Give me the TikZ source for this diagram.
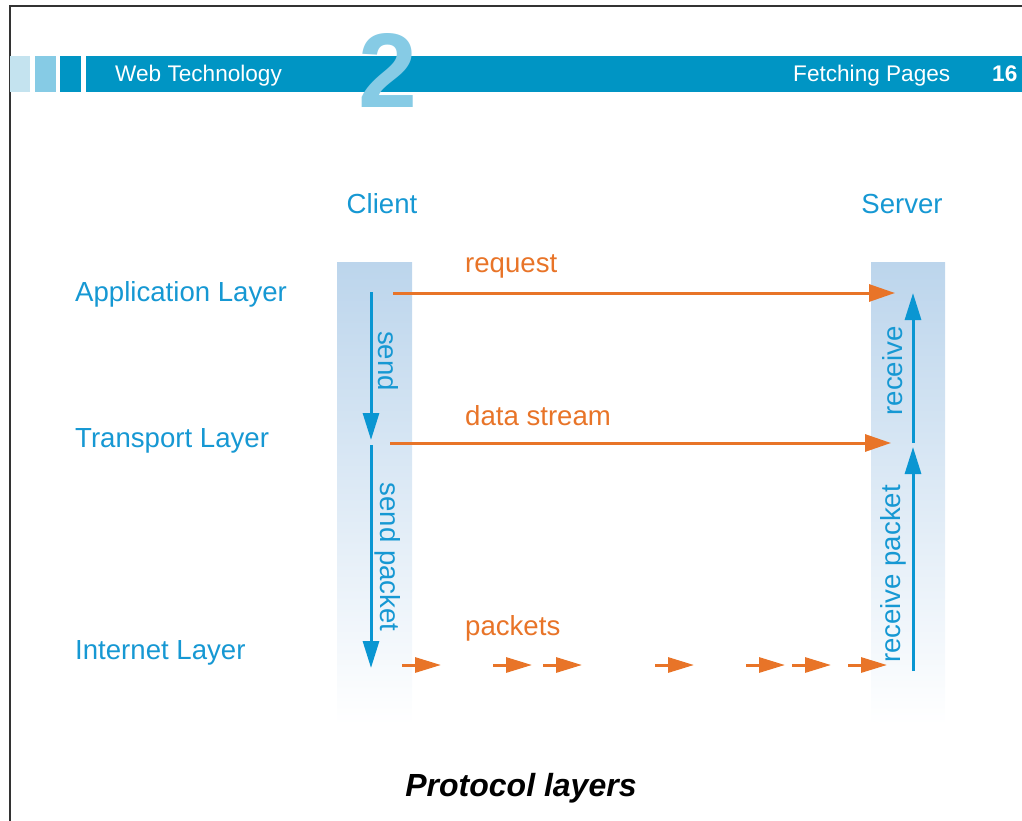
\documentclass[tikz,border=0pt]{standalone}
\usepackage{fontspec}
\setmainfont{Liberation Sans}
\usetikzlibrary{arrows.meta}
\definecolor{barblue}{RGB}{0,149,196}
\definecolor{midblue}{RGB}{134,203,229}
\definecolor{paleblue}{RGB}{196,227,239}
\definecolor{txtblue}{RGB}{22,152,211}
\definecolor{arrblue}{RGB}{10,150,210}
\definecolor{arrorange}{RGB}{232,116,40}
\definecolor{coltop}{RGB}{188,213,236}
\begin{document}
\begin{tikzpicture}[x=1pt,y=-1pt,
  lbl/.style={font=\fontsize{27.6}{30}\selectfont,text=txtblue,inner sep=0pt},
  olbl/.style={font=\fontsize{27.6}{30}\selectfont,text=arrorange,inner sep=0pt,anchor=base west},
  hdr/.style={font=\fontsize{22.6}{24}\selectfont,text=white,inner sep=0pt,anchor=base west},
  flow/.style={draw=arrblue,line width=3pt,-{Triangle[length=27pt,width=16pt]}},
  msg/.style={draw=arrorange,line width=3pt,-{Triangle[length=26pt,width=17pt]}},
  pkt/.style={draw=arrorange,line width=3pt,-{Triangle[length=26pt,width=15pt]}}]
\useasboundingbox (0,0) rectangle (1022,821);
% page frame and header bar
\draw[line width=2.5pt,black!80] (10,821) -- (10,6) -- (1022,6);
\fill[paleblue] (10,56) rectangle (30,92);
\fill[midblue] (35,56) rectangle (56,92);
\fill[barblue] (60,56) rectangle (81,92);
\fill[barblue] (86,56) rectangle (1022,92);
\node[hdr] (title) at (115,82) {Web Technology};
\node[font=\fontsize{106}{106}\selectfont\bfseries,text=midblue,inner sep=0pt,anchor=base] (chap) at (388,108) {2};
\node[hdr] (sect) at (793,82) {Fetching Pages};
\node[hdr,font=\fontsize{22.6}{24}\selectfont\bfseries] (page) at (992,82) {16};
% columns
\shade[top color=coltop,bottom color=white] (337,262) rectangle (412,725);
\shade[top color=coltop,bottom color=white] (871,262) rectangle (945,725);
\node[lbl,anchor=base] (client) at (382,214) {Client};
\node[lbl,anchor=base] (server) at (902,214) {Server};
\node[lbl,anchor=base west] (app) at (75,301) {Application Layer};
\node[lbl,anchor=base west] (trans) at (75,447) {Transport Layer};
\node[lbl,anchor=base west] (inet) at (75,659) {Internet Layer};
% messages between the columns
\node[olbl] (request) at (465,272) {request};
\node[olbl] (stream) at (465,425) {data stream};
\node[olbl] (packets) at (465,635) {packets};
\coordinate (reqA) at (393,293);
\coordinate (reqB) at (895,293);
\coordinate (strA) at (390,443);
\coordinate (strB) at (891,443);
\draw[msg] (reqA) -- (reqB);
\draw[msg] (strA) -- (strB);
\foreach \x [count=\i] in {402,493,543,655,746,792,848} {
  \coordinate (pkA\i) at (\x,665);
  \coordinate (pkB\i) at (\x+39,665);
  \draw[pkt] (pkA\i) -- (pkB\i);
}
% down the client, up the server
\coordinate (sndA) at (371,292);
\coordinate (sndB) at (371,440);
\coordinate (sndC) at (371,445);
\coordinate (sndD) at (371,668);
\coordinate (rcvA) at (913,671);
\coordinate (rcvB) at (913,447);
\coordinate (rcvC) at (913,443);
\coordinate (rcvD) at (913,293);
\draw[flow] (sndA) -- (sndB);
\draw[flow] (sndC) -- (sndD);
\draw[flow] (rcvA) -- (rcvB);
\draw[flow] (rcvC) -- (rcvD);
\node[lbl,rotate=-90] (send) at (388,361) {send};
\node[lbl,rotate=-90] (sendpkt) at (388,557) {send packet};
\node[lbl,rotate=90] (recv) at (893,371) {receive};
\node[lbl,rotate=90] (recvpkt) at (893,574) {receive packet};
\node[font=\fontsize{32}{34}\selectfont\bfseries\itshape,inner sep=0pt,anchor=base] (caption) at (521,796) {Protocol layers};
\end{tikzpicture}
\end{document}
